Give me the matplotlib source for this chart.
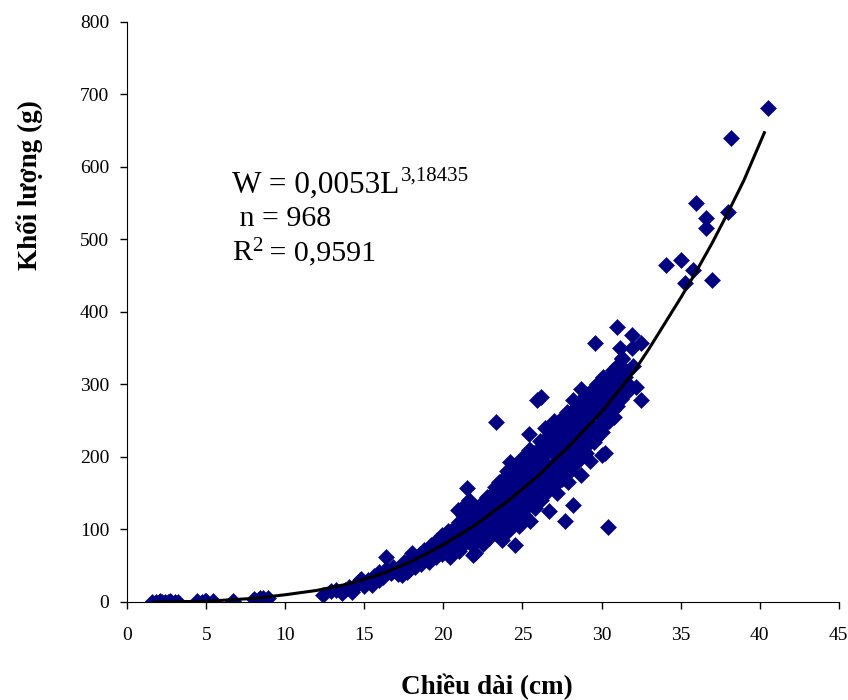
import numpy as np
import matplotlib.pyplot as plt

plt.rcParams['font.family'] = ['Liberation Serif', 'DejaVu Serif']

# fitted curve
curve_x = [1.7, 5, 8, 10, 12, 14, 16, 18, 20, 22, 24, 26, 28, 30, 32, 33, 34, 35, 36, 37, 38, 39, 40.3]
curve_y = [0, 1, 5, 10, 16, 25, 38, 56, 79, 106, 138, 174, 216, 262, 316, 349, 384, 419, 456, 495, 537, 581, 647]

len_small = [1.6, 1.8, 2.0, 2.2, 2.4, 2.6, 2.8, 3.0, 3.2, 2.1, 2.7,
             4.4, 4.7, 5.0, 5.4, 4.9, 6.7, 8.0, 8.3, 8.6, 8.9, 8.4]
wt_small = [0, 0, 0, 0, 0, 0, 0, 0, 0, 1, 1,
            1, 0, 1, 2, 2, 2, 4, 3, 5, 5, 6]

len_mid = [12.4, 12.9, 13.2, 13.6, 14.0, 14.2, 13.8,
           14.3, 14.6, 14.7, 14.8, 15.0, 15.2, 15.5, 15.6, 15.9, 15.9, 16.4,
           16.2, 16.4, 16.7, 16.8, 17.1, 17.3, 17.4, 17.5, 17.7, 17.8, 17.9, 18.0, 18.0,
           18.2, 18.3, 18.5, 18.6, 18.8, 18.9, 19.1, 19.2, 19.3, 19.5, 19.6, 19.7, 19.9, 19.9,
           20.1, 20.2, 20.3, 20.4, 20.5, 20.6, 20.8, 20.8, 20.9, 21.0, 21.1, 21.2, 21.3,
           21.5, 21.5, 21.6, 21.5, 21.6, 21.7, 21.9, 21.9, 22.0, 22.0, 21.8]
wt_mid = [10, 15, 17, 13, 20, 14, 16,
          18, 25, 30, 32, 22, 30, 23, 36, 30, 42, 62,
          35, 45, 40, 48, 38, 46, 37, 55, 42, 44, 50, 62, 68,
          48, 57, 66, 52, 72, 60, 55, 78, 68, 62, 86, 74, 66, 92,
          70, 82, 98, 62, 90, 76, 105, 84, 127, 70, 95, 112, 80,
          157, 137, 141, 100, 118, 88, 65, 108, 67, 125, 78]

len_big = [22.2, 22.3, 22.4, 22.5, 22.6, 22.7, 22.8, 22.9, 23.0, 23.1, 23.2, 23.3, 23.3,
           23.4, 23.5, 23.6, 23.7, 23.8, 23.9, 24.0, 24.0, 24.1,
           24.2, 24.3, 24.4, 24.5, 24.5, 24.6, 24.7, 24.8, 24.9, 25.0, 25.1, 25.2, 25.3,
           25.4, 25.4, 25.5, 25.6, 25.7, 25.8, 25.9, 25.9, 26.0, 26.1,
           26.2, 26.2, 26.3, 26.4, 26.5, 26.6, 26.7, 26.8, 26.9, 27.0, 27.1, 27.2, 27.3,
           27.4, 27.5, 27.6, 27.7, 27.7, 27.8, 27.9, 28.0, 28.1, 28.2, 28.2, 28.3, 28.4, 28.5,
           28.6, 28.7, 28.7, 28.8, 28.9, 29.0, 29.1, 29.2, 29.3, 29.4, 29.5, 29.6, 29.7,
           29.6, 29.8, 29.9, 30.0, 30.1, 30.2, 30.0, 30.3, 30.4,
           30.5, 30.6, 30.7, 30.8, 30.9, 31.0, 31.1, 31.3, 31.3, 31.5, 31.6, 31.7,
           31.9, 31.9, 32.0, 32.2, 32.5, 32.5, 31.2]
wt_big = [92, 112, 132, 80, 102, 120, 140, 88, 110, 128, 150, 95, 248,
          118, 138, 160, 85, 105, 148, 125, 172, 98,
          193, 140, 115, 79, 160, 182, 130, 105, 150, 198, 120, 170, 140,
          232, 210, 112, 185, 155, 130, 279, 200, 165, 222,
          283, 140, 185, 240, 205, 160, 125, 225, 178, 250, 195, 150, 215,
          251, 175, 235, 112, 200, 262, 165, 225, 185, 134, 279, 250, 205, 270,
          230, 175, 293, 255, 255, 215, 275, 240, 195, 290, 260, 225, 300,
          357, 270, 245, 290, 310, 205, 203, 265, 104,
          300, 280, 320, 255, 316, 379, 295, 335, 336, 310, 290, 300,
          368, 350, 325, 297, 357, 279, 350]

# the packed core of the cloud
len_core = [19.0, 19.0, 19.5, 19.5, 20.0, 20.0, 20.5, 20.5, 20.5,
            21.0, 21.0, 21.0, 21.5, 21.5, 21.5, 21.5, 22.0, 22.0, 22.0, 22.0,
            22.5, 22.5, 22.5, 22.5, 23.0, 23.0, 23.0, 23.0, 23.5, 23.5, 23.5, 23.5,
            24.0, 24.0, 24.0, 24.0, 24.0, 24.5, 24.5, 24.5, 24.5, 24.5,
            25.0, 25.0, 25.0, 25.0, 25.0, 25.5, 25.5, 25.5, 25.5, 25.5,
            26.0, 26.0, 26.0, 26.0, 26.0, 26.5, 26.5, 26.5, 26.5, 26.5,
            27.0, 27.0, 27.0, 27.0, 27.0, 27.5, 27.5, 27.5, 27.5, 27.5,
            28.0, 28.0, 28.0, 28.0, 28.5, 28.5, 28.5, 28.5, 28.5,
            29.0, 29.0, 29.0, 29.0, 29.0, 29.5, 29.5, 29.5, 29.5,
            30.0, 30.0, 30.0, 30.0, 30.5, 30.5, 30.5, 30.5,
            31.0, 31.0, 31.0, 31.0, 31.5, 31.5,
            19.25, 19.25, 19.75, 19.75, 20.25, 20.25, 20.75, 20.75, 20.75,
            21.25, 21.25, 21.25, 21.75, 21.75, 21.75, 22.25, 22.25, 22.25,
            22.75, 22.75, 22.75, 22.75, 23.25, 23.25, 23.25, 23.25,
            23.75, 23.75, 23.75, 23.75, 24.25, 24.25, 24.25, 24.25,
            24.75, 24.75, 24.75, 24.75, 24.75, 25.25, 25.25, 25.25, 25.25,
            25.75, 25.75, 25.75, 25.75, 26.25, 26.25, 26.25, 26.25,
            26.75, 26.75, 26.75, 26.75, 27.25, 27.25, 27.25, 27.25,
            27.75, 27.75, 27.75, 27.75, 28.25, 28.25, 28.25, 28.25,
            28.75, 28.75, 28.75, 28.75, 29.25, 29.25, 29.25, 29.25,
            29.75, 29.75, 29.75, 30.25, 30.25, 30.25, 30.75, 30.75, 31.25, 31.25]
wt_core = [60, 70, 70, 80, 75, 88, 80, 95, 70,
           82, 100, 110, 85, 95, 110, 125, 88, 100, 115, 130,
           95, 110, 125, 138, 98, 118, 135, 148, 105, 122, 150, 165,
           110, 130, 150, 165, 180, 120, 135, 150, 170, 185,
           125, 145, 160, 180, 190, 135, 150, 170, 195, 210,
           145, 160, 180, 195, 210, 150, 170, 190, 215, 225,
           160, 180, 205, 225, 240, 170, 190, 210, 230, 248,
           180, 200, 240, 260, 195, 215, 240, 255, 275,
           205, 230, 250, 265, 285, 220, 240, 275, 295,
           235, 255, 275, 300, 250, 270, 290, 310,
           270, 285, 305, 325, 300, 320,
           65, 76, 72, 84, 78, 92, 74, 90, 100,
           90, 104, 120, 92, 105, 120, 100, 120, 128,
           90, 115, 130, 145, 110, 125, 140, 158,
           115, 135, 155, 170, 118, 140, 160, 175,
           128, 145, 165, 178, 192, 132, 155, 175, 200,
           140, 165, 190, 205, 150, 175, 200, 220,
           165, 185, 210, 230, 175, 195, 220, 240,
           185, 210, 225, 245, 190, 215, 235, 262,
           205, 225, 245, 268, 225, 245, 260, 280,
           240, 260, 285, 245, 280, 295, 265, 300, 280, 315]

len_top = [34.1, 35.0, 35.8, 35.3, 36.0, 36.6, 36.6, 37.0, 38.0, 38.2, 40.5]
wt_top = [465, 471, 458, 440, 550, 530, 515, 444, 537, 639, 681]

fish_len = len_small + len_mid + len_big + len_core + len_top
fish_wt = wt_small + wt_mid + wt_big + wt_core + wt_top

fig = plt.figure(figsize=(8.48, 7.0), dpi=100)
ax = fig.add_axes([0.150, 0.140, 0.839, 0.829])

ax.plot(fish_len, fish_wt, linestyle='none', marker='D', markersize=8.5,
        color='#000080', markeredgewidth=0.4, zorder=2)
ax.plot(curve_x, curve_y, color='black', linewidth=2.2, zorder=3)

ax.set_xlim(0, 45)
ax.set_ylim(0, 800)
ax.set_xticks(np.arange(0, 46, 5))
ax.set_yticks(np.arange(0, 801, 100))
ax.spines['top'].set_visible(False)
ax.spines['right'].set_visible(False)
ax.tick_params(direction='out', length=5, width=1, labelsize=14)
ax.tick_params(axis='y', pad=8)
ax.tick_params(axis='x', pad=13)

fig.text(487 / 848, 1 - 687 / 700, 'Chiều dài (cm)', ha='center', va='center',
         fontsize=19.5, fontweight='bold')
fig.text(30 / 848, 1 - 185 / 700, 'Khối lượng (g)', ha='center', va='center',
         rotation=90, fontsize=19.5, fontweight='bold')

# equation box
t1 = fig.text(232 / 848, 1 - 193 / 700, 'W = 0,0053L', fontsize=22.5, va='baseline')
ax.annotate('3,18435', xy=(1, 1), xycoords=t1, xytext=(1, 3),
            textcoords='offset points', fontsize=15, va='top', ha='left')
fig.text(232 / 848, 1 - 226 / 700, ' n = 968', fontsize=21.5, va='baseline')
t3 = fig.text(232 / 848, 1 - 260 / 700, 'R', fontsize=21.5, va='baseline')
t4 = ax.annotate('2', xy=(1, 1), xycoords=t3, xytext=(0, 2),
                 textcoords='offset points', fontsize=15, va='top', ha='left')
ax.annotate(' = 0,9591', xy=(1, 0), xycoords=(t4, t3), fontsize=21.5,
            va='bottom', ha='left')

fig.savefig('out.png', dpi=100)
